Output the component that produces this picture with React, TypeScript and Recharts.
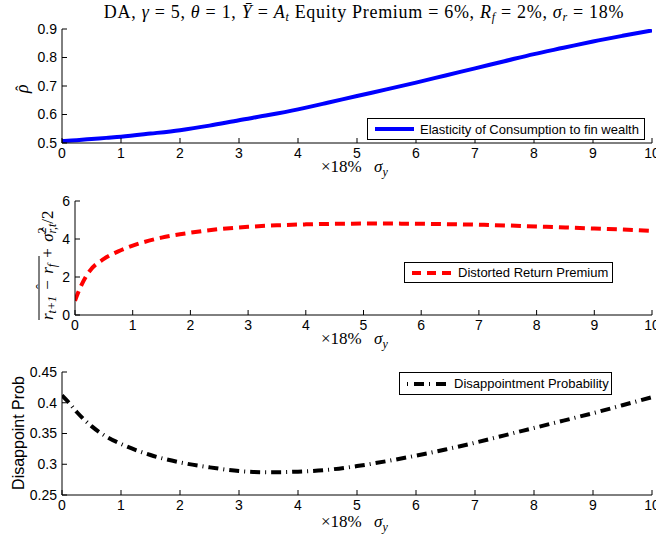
import React from 'react';
import { LineChart, Line, XAxis, YAxis } from 'recharts';

const sigmaY = [0, 0.1, 0.25, 0.5, 0.75, 1, 1.5, 2, 2.5, 3, 3.5, 4, 4.5, 5, 5.5, 6, 6.5, 7, 7.5, 8, 8.5, 9, 9.5, 10];
const rhoHat = [0.507, 0.508, 0.51, 0.514, 0.518, 0.522, 0.533, 0.545, 0.561, 0.58, 0.598, 0.618, 0.641, 0.665, 0.688, 0.712, 0.737, 0.762, 0.787, 0.812, 0.834, 0.856, 0.876, 0.895];
const premium = [0.75, 1.5, 2.3, 2.95, 3.35, 3.65, 4.07, 4.33, 4.52, 4.64, 4.72, 4.77, 4.8, 4.81, 4.81, 4.8, 4.78, 4.75, 4.71, 4.66, 4.61, 4.55, 4.5, 4.43];
const disappoint = [0.412, 0.402, 0.385, 0.362, 0.345, 0.333, 0.315, 0.303, 0.295, 0.289, 0.287, 0.288, 0.291, 0.297, 0.305, 0.314, 0.324, 0.335, 0.347, 0.359, 0.371, 0.383, 0.396, 0.409];

const xTicks = [0, 1, 2, 3, 4, 5, 6, 7, 8, 9, 10];
const rhoTicks = [0.5, 0.6, 0.7, 0.8, 0.9];
const premTicks = [0, 2, 4, 6];
const probTicks = [0.25, 0.3, 0.35, 0.4, 0.45];

const data = sigmaY.map((x, i) => ({ x, rho: rhoHat[i], prem: premium[i], prob: disappoint[i] }));

const SANS = 'Liberation Sans, Arial, Helvetica, sans-serif';
const SERIF = 'Liberation Serif, Times New Roman, serif';
const W = 656;
const PLOT_RIGHT = 652;

type PanelProps = {
  top: number;
  height: number;
  plotLeft: number;
  plotTop: number;
  plotBottom: number;
  dataKey: string;
  color: string;
  dash?: string;
  yTicks: number[];
  yDomain: [number, number];
};

function Panel(p: PanelProps) {
  const axisCommon = {
    axisLine: { stroke: '#000', strokeWidth: 1 },
    tickLine: { stroke: '#000', strokeWidth: 1 },
  };
  const tickStyle = { fill: '#000', fontSize: 14, fontFamily: SANS };
  return (
    <div style={{ position: 'absolute', left: 0, top: p.top, width: W, height: p.height }}>
      <LineChart
        width={W}
        height={p.height}
        data={data}
        margin={{ left: p.plotLeft - 60, right: W - PLOT_RIGHT, top: p.plotTop, bottom: p.height - p.plotBottom - 30 }}
      >
        <XAxis
          xAxisId="b"
          dataKey="x"
          type="number"
          domain={[0, 10]}
          ticks={xTicks}
          interval={0}
          orientation="bottom"
          height={30}
          tickSize={-5}
          tickMargin={10}
          tick={tickStyle}
          allowDataOverflow
          {...axisCommon}
        />
        <XAxis
          xAxisId="t"
          dataKey="x"
          type="number"
          domain={[0, 10]}
          ticks={xTicks}
          interval={0}
          orientation="top"
          height={0}
          tickSize={-5}
          tick={false}
          allowDataOverflow
          {...axisCommon}
        />
        <YAxis
          yAxisId="l"
          type="number"
          domain={p.yDomain}
          ticks={p.yTicks}
          interval={0}
          orientation="left"
          width={60}
          tickSize={-5}
          tickMargin={10}
          tick={tickStyle}
          allowDataOverflow
          {...axisCommon}
        />
        <YAxis
          yAxisId="r"
          type="number"
          domain={p.yDomain}
          ticks={p.yTicks}
          interval={0}
          orientation="right"
          width={0}
          tickSize={-5}
          tick={false}
          allowDataOverflow
          {...axisCommon}
        />
        <Line
          xAxisId="b"
          yAxisId="l"
          dataKey={p.dataKey}
          type="monotone"
          stroke={p.color}
          strokeWidth={4}
          strokeDasharray={p.dash}
          dot={false}
          activeDot={false}
          isAnimationActive={false}
        />
        <Line
          xAxisId="t"
          yAxisId="r"
          dataKey={p.dataKey}
          type="monotone"
          stroke="none"
          strokeWidth={0}
          dot={false}
          activeDot={false}
          legendType="none"
          isAnimationActive={false}
        />
      </LineChart>
    </div>
  );
}

type LegendProps = {
  left: number;
  top: number;
  width: number;
  height: number;
  label: string;
  color: string;
  dash?: string;
  sampleLen: number;
};

function LegendBox(l: LegendProps) {
  return (
    <div
      style={{
        position: 'absolute',
        left: l.left,
        top: l.top,
        width: l.width,
        height: l.height,
        boxSizing: 'border-box',
        border: '1px solid #000',
        background: '#fff',
        display: 'flex',
        alignItems: 'center',
        fontFamily: SANS,
        fontSize: 13,
        color: '#000',
        whiteSpace: 'nowrap',
        zIndex: 2,
      }}
    >
      <svg width={l.sampleLen + 14} height={10} style={{ marginLeft: 7, flex: 'none' }}>
        <line x1={0} y1={5} x2={l.sampleLen} y2={5} stroke={l.color} strokeWidth={4} strokeDasharray={l.dash} />
      </svg>
      <span style={{ marginLeft: -8 }}>{l.label}</span>
    </div>
  );
}

function XLabel({ y }: { y: number }) {
  return (
    <text y={y} fontFamily={SERIF} fontSize={17} fill="#000">
      <tspan x={321}>×18%</tspan>
      <tspan x={374} fontStyle="italic">σ</tspan>
      <tspan fontSize={12} fontStyle="italic" dy={4}>y</tspan>
    </text>
  );
}

export default function App() {
  return (
    <div style={{ position: 'absolute', left: 0, top: 0, width: W, height: 538, background: '#fff', overflow: 'hidden' }}>
      <Panel top={0} height={180} plotLeft={62} plotTop={29} plotBottom={143} dataKey="rho" color="#0000ff" yTicks={rhoTicks} yDomain={[0.5, 0.9]} />
      <Panel top={180} height={180} plotLeft={75} plotTop={21} plotBottom={135} dataKey="prem" color="#ff0000" dash="10 6" yTicks={premTicks} yDomain={[0, 6]} />
      <Panel top={360} height={178} plotLeft={62} plotTop={12} plotBottom={135} dataKey="prob" color="#000000" dash="10 5 1 5" yTicks={probTicks} yDomain={[0.25, 0.45]} />

      <LegendBox left={367} top={118} width={278} height={22} label="Elasticity of Consumption to fin wealth" color="#0000ff" sampleLen={39} />
      <LegendBox left={404} top={262} width={209} height={21} label="Distorted Return Premium" color="#ff0000" dash="9 6" sampleLen={40} />
      <LegendBox left={399} top={372} width={213} height={23} label="Disappointment Probability" color="#000000" dash="1 6 10 5" sampleLen={41} />

      <svg width={W} height={538} style={{ position: 'absolute', left: 0, top: 0, pointerEvents: 'none', zIndex: 3 }}>
        <text x={364} y={18} textAnchor="middle" fontFamily={SERIF} fontSize={18} letterSpacing={0.7} fill="#000">
          {'DA, '}
          <tspan fontStyle="italic">γ</tspan>
          {' = 5, '}
          <tspan fontStyle="italic">θ</tspan>
          {' = 1, '}
          <tspan fontStyle="italic">Ȳ</tspan>
          {' = '}
          <tspan fontStyle="italic">A</tspan>
          <tspan fontStyle="italic" fontSize={12} dy={3}>t</tspan>
          <tspan dy={-3}>{' Equity Premium = 6%, '}</tspan>
          <tspan fontStyle="italic">R</tspan>
          <tspan fontStyle="italic" fontSize={12} dy={3}>f</tspan>
          <tspan dy={-3}>{' = 2%, '}</tspan>
          <tspan fontStyle="italic">σ</tspan>
          <tspan fontStyle="italic" fontSize={12} dy={3}>r</tspan>
          <tspan dy={-3}>{' = 18%'}</tspan>
        </text>

        <XLabel y={172} />
        <XLabel y={344} />
        <XLabel y={527} />

        <g transform="translate(28,93) rotate(-90)">
          <text x={0} y={0} fontFamily={SERIF} fontSize={18} fontStyle="italic" fill="#000">ρ</text>
          <text x={2} y={-1} fontFamily={SERIF} fontSize={16} fill="#000">ˆ</text>
        </g>

        <g transform="translate(53,320) rotate(-90)">
          <line x1={0} y1={-14} x2={64} y2={-14} stroke="#000" strokeWidth={1} />
          <text x={31} y={-7} fontFamily={SERIF} fontSize={15} fill="#000">ˆ</text>
          <text x={0} y={0} fontFamily={SERIF} fontSize={17} fill="#000">
            <tspan fontStyle="italic">r</tspan>
            <tspan fontStyle="italic" fontSize={12} dy={3}>t+1</tspan>
            <tspan dy={-3} dx={2}>{' − '}</tspan>
            <tspan fontStyle="italic" dx={2}>r</tspan>
            <tspan fontStyle="italic" fontSize={12} dy={3}>f</tspan>
            <tspan dy={-3} dx={2}>{' + '}</tspan>
            <tspan fontStyle="italic" dx={2}>σ̂</tspan>
            <tspan fontSize={12} dy={-7}>2</tspan>
            <tspan fontStyle="italic" fontSize={12} dx={-6} dy={10}>r,t</tspan>
            <tspan dy={-3}>/2</tspan>
          </text>
        </g>

        <text transform="translate(24,433) rotate(-90)" textAnchor="middle" fontFamily={SANS} fontSize={16} fill="#000">
          Disappoint Prob
        </text>
      </svg>
    </div>
  );
}
